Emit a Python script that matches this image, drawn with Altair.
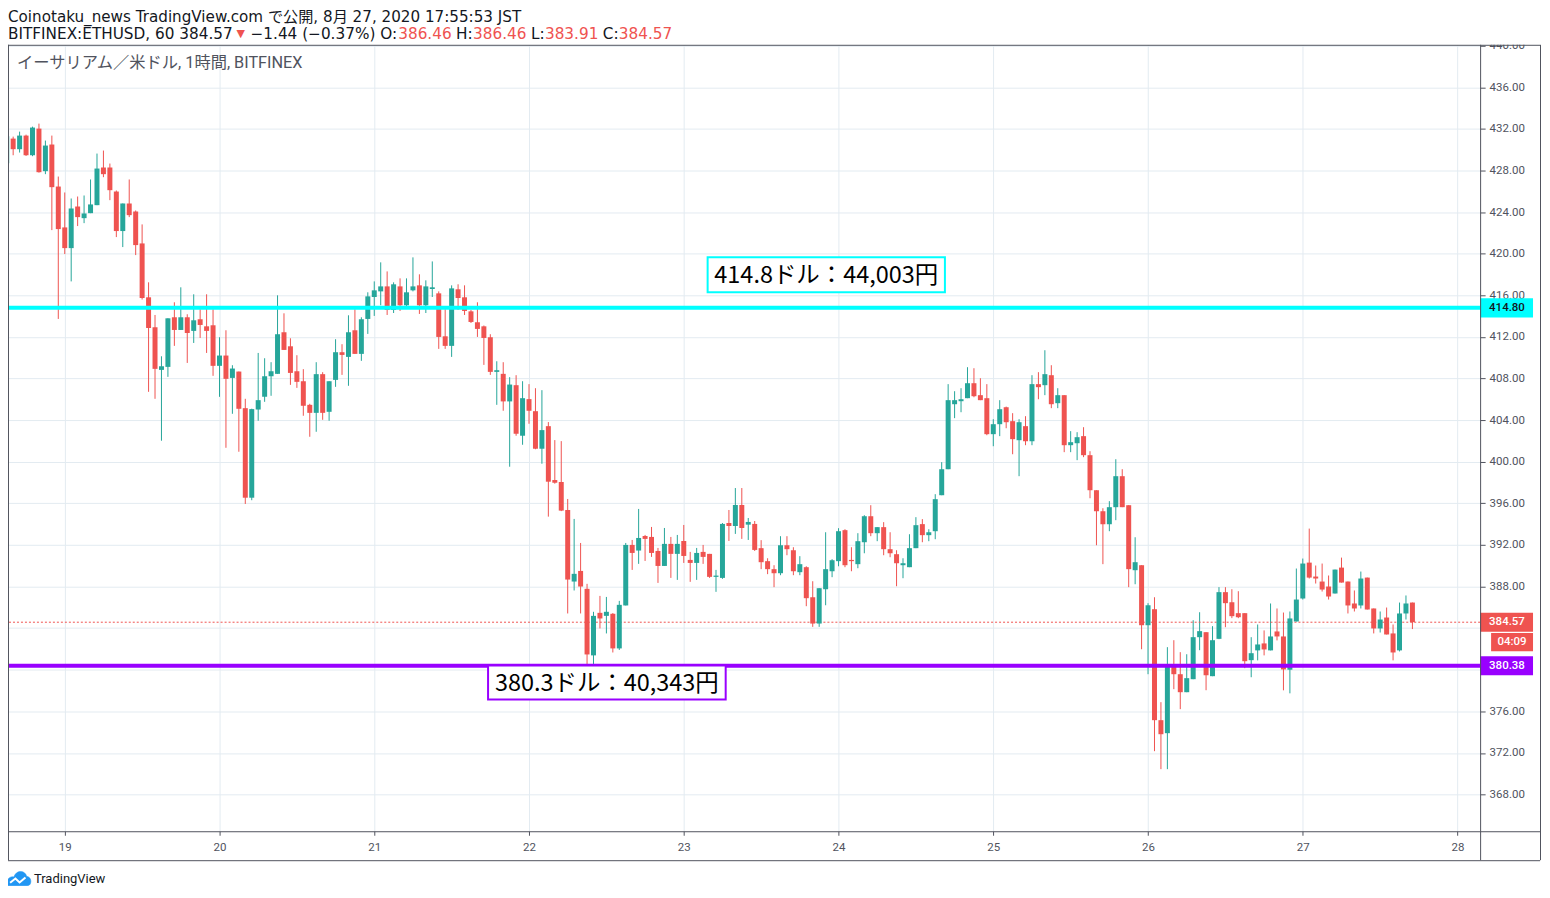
import altair as alt
import pandas as pd

# ---------------- data ----------------
FIRST_HOUR = -9  # first candle = 18 Aug 15:00 JST, in hours relative to 19 Aug 00:00 JST

OPEN = [428.7, 431.07, 430.05, 431.36, 429.47, 432.03, 427.94, 430.5, 426.46, 422.53,
        420.54, 424.54, 423.42, 423.9, 424.67, 428.29, 428.29, 425.98, 422.18, 424.83,
        424.06, 420.99, 415.81, 412.93, 408.83, 409.12, 413.89, 412.67, 413.89, 412.58,
        413.7, 413.02, 413.12, 409.22, 410.21, 408.06, 408.67, 405.15, 396.54, 405.02,
        406.24, 408.22, 408.45, 412.45, 411.1, 408.7, 407.74, 405.47, 404.7, 408.42,
        404.8, 407.87, 410.53, 410.08, 412.64, 410.37, 413.73, 415.84, 416.38, 416.86,
        414.59, 416.86, 415.04, 416.48, 416.96, 415.04, 416.61, 416.19, 412.06, 411.14,
        416.58, 415.81, 414.46, 413.41, 413.02, 411.97, 408.64, 408.45, 405.8, 407.36,
        402.5, 406.02, 404.86, 401.25, 403.42, 398.24, 398.05, 395.36, 388.48, 389.5,
        387.78, 381.38, 385.47, 385.18, 385.38, 382.05, 386.18, 392.0, 391.46, 392.86,
        392.77, 391.42, 389.98, 392.1, 391.14, 392.38, 390.56, 390.27, 391.33, 391.14,
        388.93, 388.83, 394.11, 393.82, 395.84, 393.95, 394.02, 391.69, 390.44, 389.67,
        389.28, 391.97, 391.49, 389.38, 389.86, 386.97, 384.44, 387.74, 389.47, 390.44,
        393.42, 390.53, 390.15, 392.26, 394.76, 393.13, 393.71, 391.59, 391.11, 390.05,
        389.86, 391.69, 394.0, 392.94, 393.32, 396.78, 399.28, 405.53, 405.82, 406.11,
        407.55, 406.4, 406.11, 402.65, 403.61, 405.24, 403.9, 402.07, 403.42, 401.97,
        407.46, 407.36, 408.32, 405.63, 406.4, 401.59, 401.78, 402.46, 400.63, 397.26,
        395.24, 393.99, 395.63, 398.61, 395.82, 389.57, 390.05, 384.28, 385.82, 375.15,
        373.9, 380.34, 379.57, 377.84, 379.09, 383.13, 383.61, 379.38, 382.97, 387.46,
        386.49, 385.44, 385.44, 380.92, 381.86, 382.53, 381.86, 383.68, 383.2, 380.0,
        384.64, 386.85, 390.3, 388.96, 388.48, 388.0, 387.33, 389.82, 388.48, 386.37,
        386.18, 388.86, 385.89, 383.97, 385.02, 383.49, 381.86, 385.41, 386.46]
HIGH = [431.6, 431.26, 431.74, 431.45, 432.22, 432.51, 430.88, 431.36, 427.42, 425.89,
        425.31, 425.5, 425.6, 427.14, 429.63, 429.92, 428.67, 426.08, 424.83, 427.14,
        424.16, 422.82, 417.25, 414.11, 410.14, 413.79, 415.33, 416.77, 414.18, 416.1,
        414.66, 416.1, 414.66, 411.97, 412.64, 409.28, 408.67, 406.05, 405.1, 410.46,
        409.95, 409.57, 416.0, 414.27, 411.87, 410.24, 408.9, 405.57, 409.57, 408.61,
        407.74, 411.78, 411.3, 414.08, 414.66, 413.89, 416.29, 417.34, 419.17, 418.3,
        417.25, 417.63, 417.63, 419.65, 418.02, 417.44, 419.26, 416.38, 414.66, 416.96,
        417.06, 416.96, 414.6, 415.33, 413.1, 412.26, 409.66, 409.57, 408.13, 408.32,
        407.74, 407.46, 407.07, 406.88, 403.81, 402.08, 401.98, 396.42, 394.5, 392.19,
        388.26, 385.57, 387.1, 387.0, 385.45, 386.62, 392.19, 392.48, 395.46, 392.96,
        393.73, 391.71, 393.63, 392.77, 392.96, 393.92, 391.33, 391.71, 392.0, 391.14,
        389.6, 394.11, 395.36, 397.47, 397.47, 394.59, 394.3, 392.46, 390.72, 390.05,
        392.84, 392.84, 391.78, 390.92, 389.95, 388.51, 387.84, 393.22, 390.63, 393.61,
        393.51, 391.78, 393.13, 394.86, 395.82, 393.71, 394.19, 393.22, 391.49, 390.72,
        393.03, 394.67, 394.48, 393.51, 396.88, 399.96, 407.46, 406.78, 407.07, 409.09,
        408.99, 408.03, 407.46, 404.09, 405.92, 405.3, 404.67, 404.09, 404.38, 408.32,
        408.61, 410.72, 409.28, 407.07, 406.4, 402.94, 402.84, 403.32, 401.01, 397.26,
        395.53, 396.21, 400.24, 399.28, 395.82, 392.74, 390.05, 386.4, 386.97, 376.88,
        382.17, 382.84, 381.69, 381.49, 384.76, 385.53, 383.61, 384.19, 387.94, 387.94,
        387.74, 387.55, 385.44, 383.13, 384.35, 383.78, 386.37, 385.89, 385.5, 385.6,
        389.73, 390.69, 393.57, 390.02, 390.21, 389.06, 389.63, 390.78, 388.48, 387.62,
        389.44, 388.86, 385.89, 385.6, 385.98, 384.35, 386.46, 387.14, 386.46]
LOW = [428.4, 429.47, 429.73, 429.4, 429.38, 427.8, 427.65, 422.27, 413.73, 419.97,
       417.34, 422.66, 422.94, 423.9, 424.67, 427.36, 425.15, 421.6, 420.64, 423.52,
       419.87, 415.6, 406.72, 406.05, 402.02, 408.16, 411.14, 412.67, 409.5, 411.42,
       411.9, 410.46, 408.26, 406.24, 401.34, 404.61, 400.96, 395.94, 396.3, 403.94,
       405.76, 406.34, 408.45, 410.75, 407.39, 407.1, 404.42, 402.4, 402.88, 404.03,
       403.94, 407.2, 408.35, 407.3, 410.37, 409.7, 412.29, 414.02, 415.04, 414.11,
       414.3, 414.5, 414.85, 416.38, 414.21, 414.3, 415.84, 410.85, 410.85, 410.08,
       414.59, 414.11, 413.34, 412.0, 409.31, 408.35, 405.47, 404.9, 399.52, 402.5,
       401.63, 403.65, 401.2, 399.81, 394.72, 397.89, 395.25, 385.41, 387.62, 385.41,
       380.54, 380.06, 383.97, 383.49, 381.66, 381.9, 386.18, 389.6, 390.18, 390.46,
       390.85, 388.35, 389.98, 388.83, 388.64, 390.27, 388.45, 388.64, 390.18, 388.83,
       387.49, 388.74, 392.38, 393.06, 392.58, 392.48, 391.42, 389.67, 389.19, 387.94,
       389.09, 391.01, 389.09, 389.09, 386.11, 384.12, 384.12, 386.2, 388.9, 389.95,
       389.86, 389.47, 389.76, 391.2, 392.84, 392.36, 391.01, 390.82, 388.03, 388.8,
       389.86, 391.69, 392.26, 392.36, 392.55, 396.78, 399.28, 404.19, 404.76, 406.11,
       406.2, 405.92, 402.55, 401.49, 402.46, 403.22, 400.72, 398.61, 401.59, 401.59,
       406.01, 406.4, 405.15, 405.15, 400.92, 400.92, 400.15, 400.44, 396.49, 391.97,
       390.15, 393.32, 394.38, 395.63, 387.94, 388.22, 381.97, 379.57, 372.17, 370.44,
       370.44, 378.13, 376.21, 377.84, 379.09, 381.88, 378.03, 379.38, 382.94, 384.09,
       384.96, 384.96, 380.15, 379.28, 380.9, 381.38, 381.86, 382.82, 378.02, 377.73,
       384.64, 386.75, 388.77, 388.29, 387.52, 386.75, 387.33, 388.38, 385.41, 385.6,
       385.89, 385.79, 383.49, 383.58, 383.39, 380.9, 381.76, 384.83, 383.91]
CLOSE = [431.3, 430.05, 431.36, 429.47, 432.13, 427.84, 430.4, 426.4, 422.37, 420.54,
         424.35, 423.52, 423.87, 424.74, 428.19, 427.65, 426.11, 422.18, 424.83, 423.71,
         420.83, 415.74, 412.86, 408.93, 409.18, 413.79, 412.67, 413.89, 412.38, 413.6,
         413.15, 412.58, 409.22, 410.21, 407.97, 408.96, 405.09, 396.54, 405.06, 405.92,
         408.22, 408.7, 412.26, 410.75, 408.54, 407.68, 405.38, 404.7, 408.42, 404.7,
         407.74, 410.53, 410.27, 412.45, 410.37, 413.7, 415.9, 416.48, 416.86, 414.59,
         417.06, 415.04, 416.29, 416.86, 415.04, 416.86, 416.77, 412.0, 411.14, 416.67,
         415.74, 414.5, 413.44, 412.77, 411.9, 408.64, 408.8, 405.8, 407.42, 402.69,
         406.11, 404.9, 401.25, 403.04, 398.08, 397.98, 395.3, 388.67, 389.22, 388.0,
         381.47, 385.18, 384.93, 385.57, 382.05, 386.24, 392.0, 391.23, 392.67, 392.58,
         391.23, 389.98, 392.1, 391.14, 392.1, 390.94, 390.27, 391.23, 390.85, 388.93,
         389.02, 394.02, 393.82, 395.84, 393.63, 394.21, 391.52, 390.34, 389.67, 389.28,
         391.97, 391.59, 389.47, 390.15, 386.88, 384.44, 387.84, 389.67, 390.53, 393.32,
         390.05, 390.44, 392.36, 394.76, 393.13, 393.71, 391.59, 391.2, 390.24, 390.24,
         391.69, 393.9, 392.94, 393.22, 396.4, 399.28, 405.92, 405.92, 406.01, 407.55,
         406.3, 405.92, 402.65, 403.61, 405.05, 403.8, 402.17, 403.8, 401.97, 407.46,
         407.17, 408.42, 405.53, 406.4, 401.59, 401.88, 402.36, 400.63, 397.26, 395.24,
         393.99, 395.63, 398.61, 395.63, 389.67, 390.34, 384.28, 386.2, 375.15, 373.8,
         380.34, 379.57, 377.84, 379.19, 383.13, 383.71, 379.47, 382.84, 387.46, 386.4,
         385.15, 385.05, 380.82, 381.59, 382.43, 381.95, 383.2, 383.2, 380.03, 384.93,
         386.75, 390.21, 388.86, 388.77, 387.71, 387.04, 389.63, 388.38, 386.18, 385.89,
         388.77, 385.79, 383.97, 384.83, 383.39, 381.66, 385.41, 386.37, 384.57]

DAY_START = 19
DAY_TICKS = [0, 24, 48, 72, 96, 120, 144, 168, 192, 216]
PRICE_TICKS = [368, 372, 376, 380, 384, 388, 392, 396, 400, 404, 408, 412, 416, 420,
               424, 428, 432, 436, 440]

LEVEL_PRICES = [414.80, 384.57, 380.38]
LEVEL_LABELS = ["414.80", "384.57", "380.38"]
LEVEL_FILLS = ["#00ffff", "#ef5350", "#9900ff"]
LEVEL_TEXT = ["#131722", "#ffffff", "#ffffff"]
LAST_PRICE = 384.57
COUNTDOWN = "04:09"

NOTE_TEXTS = ["414.8ドル：44,003円", "380.3ドル：40,343円"]
NOTE_COLORS = ["#00ffff", "#9900ff"]
NOTE_T1 = [99.7, 65.65]
NOTE_T2 = [136.5, 102.5]
NOTE_P1 = [416.3, 377.14]
NOTE_P2 = [419.65, 380.4]

HEADER1 = "Coinotaku_news TradingView.com で公開, 8月 27, 2020 17:55:53 JST"
HEADER2 = ["BITFINEX:ETHUSD, 60 384.57", "▼", "−1.44 (−0.37%) O:", "386.46", "H:",
           "386.46", "L:", "383.91", "C:", "384.57"]
HEADER2_RED = [False, True, False, True, False, True, False, True, False, True]
SYMBOL_LABEL = "イーサリアム／米ドル, 1時間, BITFINEX"

# ---------------- style / layout ----------------
W, H = 1475, 788
UP, DOWN = "#26a69a", "#ef5350"
GRID = "#e3ebf1"
FRAME = "#50535e"
TXT = "#131722"
FONT = "Roboto, 'Noto Sans CJK JP', sans-serif"
HFONT = "'DejaVu Sans', 'Noto Sans CJK JP', sans-serif"
JFONT = "'Noto Sans CJK JP', sans-serif"
HEADER2_X = [0, 229, 243, 391, 449, 466, 524, 538, 596, 612]

xs = alt.Scale(domain=[-8.8, 219.5], nice=False, zero=False, padding=0)
ys = alt.Scale(domain=[364.47, 440.09], nice=False, zero=False, padding=0)

# labels hidden behind the coloured price boxes on the right scale
HIDDEN = [380, 384]
y_label_expr = ("indexof([" + ",".join(str(v) for v in HIDDEN) + "], datum.value) >= 0 ? '' : "
                "format(datum.value, '.2f')")

x_axis = alt.Axis(values=DAY_TICKS, labelExpr=f"format(datum.value/24+{DAY_START}, 'd')",
                  grid=True, gridColor=GRID, domain=False, ticks=True, tickSize=4,
                  tickColor=FRAME, labelPadding=6, labelFontSize=11.5, labelColor="#50535e",
                  labelFont=FONT, title=None, labelFlush=False)
y_axis = alt.Axis(orient="right", values=PRICE_TICKS, labelExpr=y_label_expr, grid=True,
                  gridColor=GRID, domain=False, ticks=True, tickSize=5, tickColor=FRAME,
                  labelPadding=4, labelFontSize=11.5, labelColor="#50535e", labelFont=FONT,
                  title=None)


def X(f):
    return alt.X(f, scale=xs, axis=x_axis)


def Y(f):
    return alt.Y(f, scale=ys, axis=y_axis)


n = len(OPEN)
df = pd.DataFrame({
    "t": [FIRST_HOUR + i for i in range(n)],
    "open": OPEN, "high": HIGH, "low": LOW, "close": CLOSE,
})
df["dir"] = ["up" if c >= o else "down" for o, c in zip(OPEN, CLOSE)]
df["blo"] = [min(o, c) for o, c in zip(OPEN, CLOSE)]
df["bhi"] = [max(max(o, c), min(o, c) + 0.12) for o, c in zip(OPEN, CLOSE)]

col = alt.Color("dir:N", scale=alt.Scale(domain=["up", "down"], range=[UP, DOWN]), legend=None)

base = alt.Chart(df)
wicks = base.mark_rule(strokeWidth=1).encode(x=X("t:Q"), y=Y("low:Q"), y2="high:Q", color=col)
bodies = base.mark_bar(size=5).encode(x=X("t:Q"), y=Y("blo:Q"), y2="bhi:Q", color=col)

last_df = pd.DataFrame({"price": [LAST_PRICE]})
last_line = alt.Chart(last_df).mark_rule(color=DOWN, strokeWidth=1, strokeDash=[2, 2]).encode(
    y=Y("price:Q"))

lv = pd.DataFrame({"price": [LEVEL_PRICES[0], LEVEL_PRICES[2]],
                   "color": [LEVEL_FILLS[0], LEVEL_FILLS[2]]})
levels = alt.Chart(lv).mark_rule(strokeWidth=4).encode(
    y=Y("price:Q"), color=alt.Color("color:N", scale=None))

# annotation boxes
notes = pd.DataFrame({"text": NOTE_TEXTS, "color": NOTE_COLORS, "t1": NOTE_T1, "t2": NOTE_T2,
                      "p1": NOTE_P1, "p2": NOTE_P2})
notes["tm"] = (notes["t1"] + notes["t2"]) / 2
notes["pm"] = (notes["p1"] + notes["p2"]) / 2
note_box = alt.Chart(notes).mark_rect(fill="white", strokeWidth=2).encode(
    x=X("t1:Q"), x2="t2:Q", y=Y("p1:Q"), y2="p2:Q",
    stroke=alt.Stroke("color:N", scale=None))
note_txt = alt.Chart(notes).mark_text(font=JFONT, fontSize=23.5, color="#000000",
                                      align="center", baseline="middle", dy=1).encode(
    x=X("tm:Q"), y=Y("pm:Q"), text="text:N")

# price labels on the right scale
lab = pd.DataFrame({"price": LEVEL_PRICES, "label": LEVEL_LABELS, "fill": LEVEL_FILLS,
                    "tc": LEVEL_TEXT})
lab["lo"] = lab["price"] - 0.92
lab["hi"] = lab["price"] + 0.92
lab_box = alt.Chart(lab).mark_rect().encode(
    x=alt.value(W), x2=alt.value(W + 53),
    y=Y("lo:Q"), y2="hi:Q",
    fill=alt.Fill("fill:N", scale=None))
lab_txt = alt.Chart(lab).mark_text(font=FONT, fontSize=11.5, align="left", baseline="middle",
                                   fontWeight=500).encode(
    x=alt.value(W + 9), y=Y("price:Q"),
    text="label:N", color=alt.Color("tc:N", scale=None))

cd = pd.DataFrame({"price": [LAST_PRICE - 1.92], "text": [COUNTDOWN]})
cd["lo"] = cd["price"] - 0.88
cd["hi"] = cd["price"] + 0.88
cd_box = alt.Chart(cd).mark_rect(fill=DOWN).encode(
    x=alt.value(W + 11), x2=alt.value(W + 53), y=Y("lo:Q"), y2="hi:Q")
cd_txt = alt.Chart(cd).mark_text(font=FONT, fontSize=11.5, color="white", align="center",
                                 baseline="middle", fontWeight=500).encode(
    x=alt.value(W + 32), y=Y("price:Q"), text="text:N")

one = pd.DataFrame({"k": [0]})


def rule(x=None, x2=None, y=None, y2=None, color=FRAME, width=1):
    enc = {}
    if x is not None:
        enc["x"] = alt.value(x)
    if x2 is not None:
        enc["x2"] = alt.value(x2)
    if y is not None:
        enc["y"] = alt.value(y)
    if y2 is not None:
        enc["y2"] = alt.value(y2)
    return alt.Chart(one).mark_rule(color=color, strokeWidth=width).encode(**enc)


def text(s, x, y, size, color=TXT, font=FONT, align="left", weight="normal"):
    return alt.Chart(one).mark_text(text=s, font=font, fontSize=size, color=color, align=align,
                                    baseline="middle", fontWeight=weight).encode(
        x=alt.value(x), y=alt.value(y))


RIGHT = W + 60
BOTTOM = H + 29
cover = alt.Chart(one).mark_rect(fill="white").encode(
    x=alt.value(W + 1), x2=alt.value(RIGHT), y=alt.value(-12), y2=alt.value(0))

frame = [
    cover,
    rule(x=0.5, y=0, y2=BOTTOM),
    rule(x=W + 0.5, y=0, y2=BOTTOM),
    rule(x=RIGHT + 0.5, y=0, y2=BOTTOM),
    rule(y=0.5, x=0, x2=RIGHT),
    rule(y=H + 0.5, x=0, x2=RIGHT),
    rule(y=BOTTOM + 0.5, x=0, x2=RIGHT),
]

header = [text(HEADER1, 0, -27.5, 15.2, font=HFONT),
          text(SYMBOL_LABEL, 9, 18, 16.3, color="#50535e")]
for s, red, hx in zip(HEADER2, HEADER2_RED, HEADER2_X):
    header.append(text(s, hx, -11, 15.3 if s != "▼" else 11, font=HFONT,
                       color=DOWN if red else TXT))

logo_cloud = alt.Chart(one).mark_point(
    shape="M-1,0.55 C-1.15,0.05 -0.75,-0.3 -0.42,-0.18 C-0.3,-0.75 0.5,-0.85 0.66,-0.22 "
          "C1.1,-0.22 1.12,0.55 0.72,0.55 Z",
    filled=True, fill="#2196f3", stroke="#2196f3", strokeWidth=0.5, size=560, opacity=1,
).encode(x=alt.value(11), y=alt.value(H + 48))
logo_zig = alt.Chart(one).mark_point(
    shape="M-0.75,0.3 L-0.3,-0.05 L0.05,0.28 L0.55,-0.15",
    filled=False, stroke="white", strokeWidth=2, size=560, opacity=1,
).encode(x=alt.value(11), y=alt.value(H + 48))
logo_txt = text("TradingView", 26, H + 48, 13, color=TXT)

chart = alt.layer(
    wicks, last_line, bodies, levels, note_box, note_txt,
    lab_box, lab_txt, cd_box, cd_txt,
    *frame, *header, logo_cloud, logo_zig, logo_txt,
).properties(
    width=W, height=H,
    padding={"left": 0, "top": 36, "right": 62, "bottom": 54},
    autosize=alt.AutoSizeParams(type="none"),
    background="white",
).configure_view(stroke=None)

chart.save("out.html", embed_options={"renderer": "svg", "actions": False})
